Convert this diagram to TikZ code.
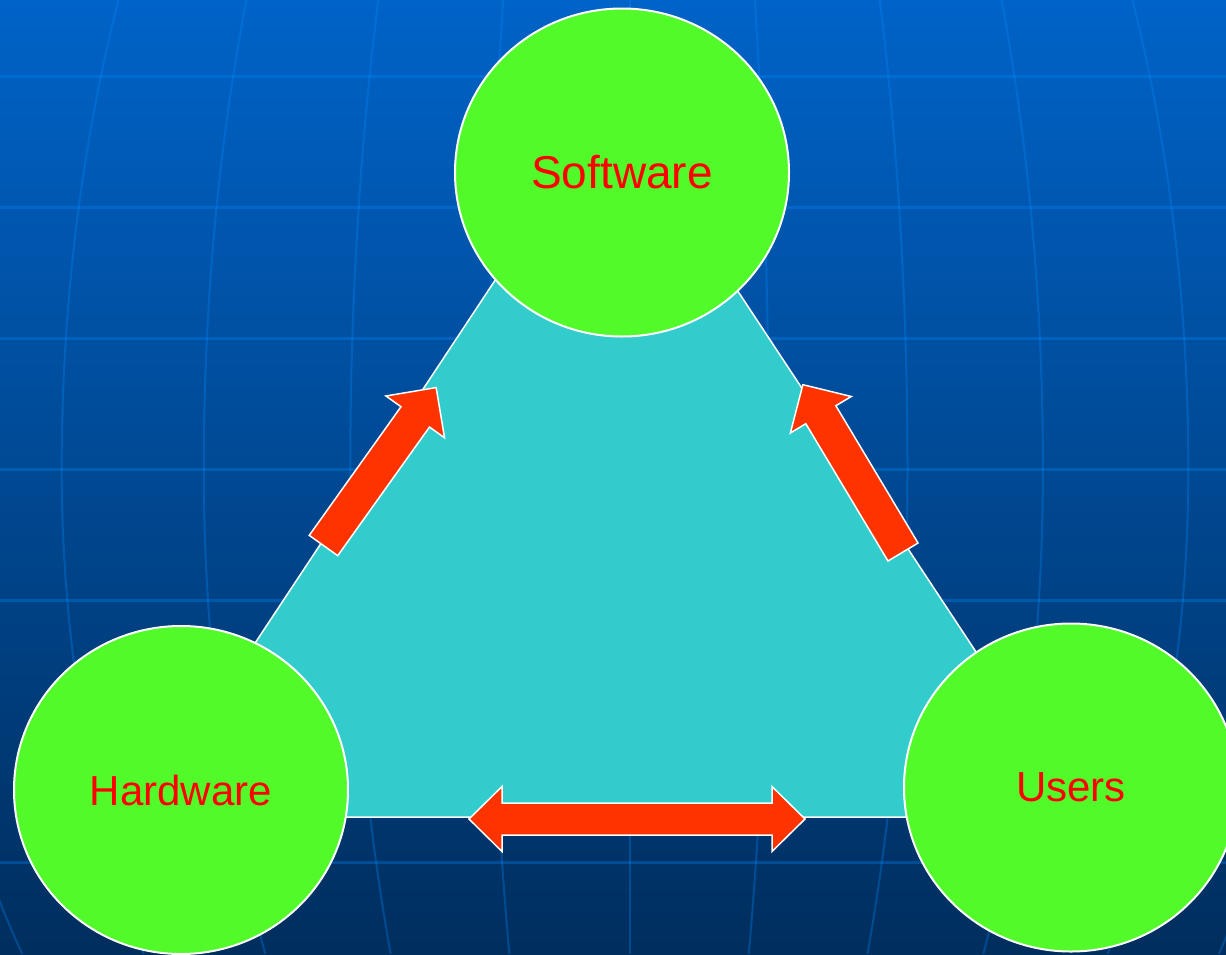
\documentclass[tikz,border=0pt]{standalone}
\usepackage{fontspec}
\setmainfont{Liberation Sans}
\usetikzlibrary{shapes.geometric}

\definecolor{skytop}{RGB}{0,99,200}
\definecolor{skybottom}{RGB}{0,46,94}
\definecolor{gridblue}{RGB}{0,140,255}
\definecolor{plate}{RGB}{51,204,204}
\definecolor{lime}{RGB}{82,250,42}
\definecolor{flame}{RGB}{255,51,0}

\tikzset{
  gridline/.style={gridblue, opacity=0.3},
  latline/.style={gridline, line width=3pt},
  meridian/.style={gridline, line width=2pt},
  plateface/.style={fill=plate, draw=white, line width=1.5pt, line join=miter},
  bubble/.style={ellipse, draw=white, line width=2pt, fill=lime, text=red,
    minimum width=334pt, minimum height=328pt, inner sep=0pt},
  blockarrow/.style={fill=flame, draw=white, line width=1.5pt, line join=miter},
}

\begin{document}
\begin{tikzpicture}[x=1pt, y=-1pt]
  \useasboundingbox (0,0) rectangle (1226,954);
  \clip (0,0) rectangle (1226,954);

  % backdrop: vertical blue gradient
  \shade[top color=skytop, bottom color=skybottom] (0,0) rectangle (1226,954);

  % globe grid: parallels
  \foreach \yy in {76,207,338,469,600,862}
    \draw[latline] (0,\yy) -- (1226,\yy);

  % globe grid: meridians (wider towards the equator at y=469)
  \foreach \t in {-640,-512,-384,-252,-127,0,125,250,372,503,620}
    \draw[meridian] plot[smooth, domain=0:954, samples=48, variable=\v]
      ({630+\t*1.11*sqrt(1-((\v-469)/(\v<469 ? 1076 : 937))^2)}, \v);

  % central triangle
  \coordinate (apex) at (613,102);
  \coordinate (baseL) at (140,817);
  \coordinate (baseR) at (1085,817);
  \draw[plateface] (apex) -- (baseL) -- (baseR) -- cycle;

  % arrow Hardware -> Software
  \coordinate (hsTail) at (323.5,545.5);
  \begin{scope}[shift={(hsTail)}, rotate=54.5]
    \draw[blockarrow] (0,17.5) -- (158,17.5) -- (158,36) -- (194,0)
      -- (158,-36) -- (158,-17.5) -- (0,-17.5) -- cycle;
  \end{scope}

  % arrow Users -> Software
  \coordinate (usTail) at (903,552);
  \begin{scope}[shift={(usTail)}, rotate=120.9]
    \draw[blockarrow] (0,17.5) -- (160,17.5) -- (160,35.5) -- (195,0)
      -- (160,-35.5) -- (160,-17.5) -- (0,-17.5) -- cycle;
  \end{scope}

  % double arrow Hardware <-> Users
  \coordinate (huMid) at (637,819);
  \begin{scope}[shift={(huMid)}]
    \draw[blockarrow] (-168,0) -- (-135,-32.5) -- (-135,-16) -- (135,-16)
      -- (135,-32.5) -- (168,0) -- (135,32.5) -- (135,16) -- (-135,16)
      -- (-135,32.5) -- cycle;
  \end{scope}

  % the three components
  \node[bubble, font=\fontsize{46}{50}\selectfont] (sw) at (622,172.5) {Software};
  \node[bubble, font=\fontsize{42}{46}\selectfont] (hw) at (181,790) {\raisebox{-2pt}{Hardware}};
  \node[bubble, font=\fontsize{42}{46}\selectfont] (us) at (1071,787.5) {\raisebox{-3pt}{Users}};
\end{tikzpicture}
\end{document}
